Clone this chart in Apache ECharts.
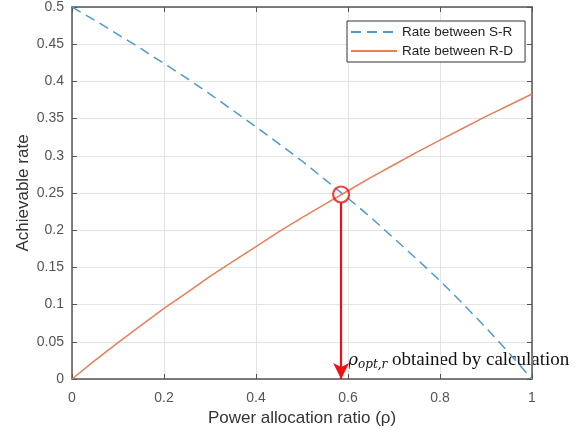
<!DOCTYPE html>
<html>
<head>
<meta charset="utf-8">
<script src="https://cdn.jsdelivr.net/npm/echarts@6/dist/echarts.min.js"></script>
<style>
  html, body { margin: 0; padding: 0; background: #fff; }
  #chart { width: 582px; height: 434px; }
</style>
</head>
<body>
<div id="chart"></div>
<script>
// power allocation ratio (x)
var rho = [0, 0.05, 0.1, 0.15, 0.2, 0.25, 0.3, 0.35, 0.4, 0.45, 0.5,
  0.55, 0.6, 0.65, 0.7, 0.75, 0.8, 0.85, 0.9, 0.95, 1];
// achievable rate, S-R link (dashed)
var rateSR = [0.5, 0.482, 0.463, 0.444, 0.424, 0.404, 0.383, 0.361, 0.339, 0.316, 0.293,
  0.268, 0.243, 0.217, 0.189, 0.161, 0.132, 0.101, 0.069, 0.035, 0];
// achievable rate, R-D link (solid)
var rateRD = [0, 0.025, 0.049, 0.072, 0.095, 0.116, 0.138, 0.158, 0.178, 0.198, 0.217,
  0.235, 0.253, 0.271, 0.288, 0.305, 0.321, 0.337, 0.353, 0.368, 0.383];
// optimum point (intersection)
var optPoint = [0.585, 0.248];

var seriesNames = ['Rate between S-R', 'Rate between R-D'];
var axisFont = 'Liberation Sans, Arial, sans-serif';

var chart = echarts.init(document.getElementById('chart'));

function pairs(xs, ys) {
  return xs.map(function (x, i) { return [x, ys[i]]; });
}

var option = {
  animation: false,
  grid: { left: 72, right: 50, top: 6, bottom: 55 },
  legend: {
    orient: 'vertical',
    left: 347,
    top: 21,
    padding: [4, 12, 4, 3],
    itemGap: 5,
    itemWidth: 46,
    itemHeight: 14,
    borderColor: '#333',
    borderWidth: 1,
    backgroundColor: '#fff',
    itemStyle: { opacity: 0 },
    textStyle: { fontFamily: axisFont, fontSize: 13.5, color: '#222' },
    data: seriesNames
  },
  xAxis: [{
    type: 'value',
    min: 0, max: 1, interval: 0.2,
    name: 'Power allocation ratio (\u03c1)',
    nameLocation: 'middle',
    nameGap: 31,
    nameMoveOverlap: false,
    nameTextStyle: { fontFamily: axisFont, fontSize: 17, color: '#333' },
    axisLine: { show: true, lineStyle: { color: '#555', width: 1.5 } },
    axisTick: { show: true, inside: true, length: 5, lineStyle: { color: '#555' } },
    axisLabel: { fontFamily: axisFont, fontSize: 14, color: '#555', margin: 12,
      formatter: function (v) { return +v.toFixed(1) + ''; } },
    splitLine: { show: true, lineStyle: { color: '#e3e3e3' } }
  }, {
    type: 'value', position: 'top',
    min: 0, max: 1, interval: 0.2,
    axisLine: { show: true, onZero: false, lineStyle: { color: '#555', width: 1.5 } },
    axisTick: { show: true, inside: true, length: 5, lineStyle: { color: '#555' } },
    axisLabel: { show: false },
    splitLine: { show: false }
  }],
  yAxis: [{
    type: 'value',
    min: 0, max: 0.5, interval: 0.05,
    name: 'Achievable rate',
    nameLocation: 'middle',
    nameGap: 40,
    nameMoveOverlap: false,
    nameTextStyle: { fontFamily: axisFont, fontSize: 17, color: '#333' },
    axisLine: { show: true, lineStyle: { color: '#555', width: 1.5 } },
    axisTick: { show: true, inside: true, length: 5, lineStyle: { color: '#555' } },
    axisLabel: { fontFamily: axisFont, fontSize: 14, color: '#555', margin: 8,
      formatter: function (v) { return +v.toFixed(2) + ''; } },
    splitLine: { show: true, lineStyle: { color: '#e3e3e3' } }
  }, {
    type: 'value', position: 'right',
    min: 0, max: 0.5, interval: 0.05,
    axisLine: { show: true, onZero: false, lineStyle: { color: '#555', width: 1.5 } },
    axisTick: { show: true, inside: true, length: 5, lineStyle: { color: '#555' } },
    axisLabel: { show: false },
    splitLine: { show: false }
  }],
  series: [
    {
      name: seriesNames[0],
      type: 'line',
      data: pairs(rho, rateSR),
      symbol: 'none',
      lineStyle: { color: '#4f97cf', width: 1.5, type: [10, 6] },
      itemStyle: { color: '#4f97cf' },
      z: 3
    },
    {
      name: seriesNames[1],
      type: 'line',
      data: pairs(rho, rateRD),
      symbol: 'none',
      lineStyle: { color: '#e5805a', width: 1.5 },
      itemStyle: { color: '#e5805a' },
      z: 3,
      markLine: {
        silent: true,
        symbol: ['none', 'arrow'],
        symbolSize: [12, 16],
        label: { show: false },
        lineStyle: { color: '#ee1111', width: 2.2, type: 'solid' },
        data: [[{ coord: [optPoint[0], optPoint[1] - 0.011] }, { coord: [optPoint[0], 0] }]]
      }
    },
    {
      name: 'opt',
      type: 'scatter',
      data: [optPoint],
      symbol: 'circle',
      symbolSize: 16,
      itemStyle: { color: 'rgba(255,255,255,0)', borderColor: '#ee1111', borderWidth: 2.2 },
      z: 5
    }
  ],
  graphic: [{
    type: 'text',
    left: 348,
    top: 351,
    style: {
      text: '{r|\u03c1}{s|opt,r}{t| obtained by calculation}',
      rich: {
        r: { fontFamily: 'DejaVu Serif', fontStyle: 'italic', fontSize: 17, fill: '#111' },
        s: { fontFamily: 'DejaVu Serif', fontStyle: 'italic', fontSize: 12, fill: '#111', padding: [9, 0, 0, 0] },
        t: { fontFamily: 'Liberation Serif', fontSize: 19, fill: '#111' }
      }
    }
  }]
};

chart.setOption(option);
</script>
</body>
</html>
